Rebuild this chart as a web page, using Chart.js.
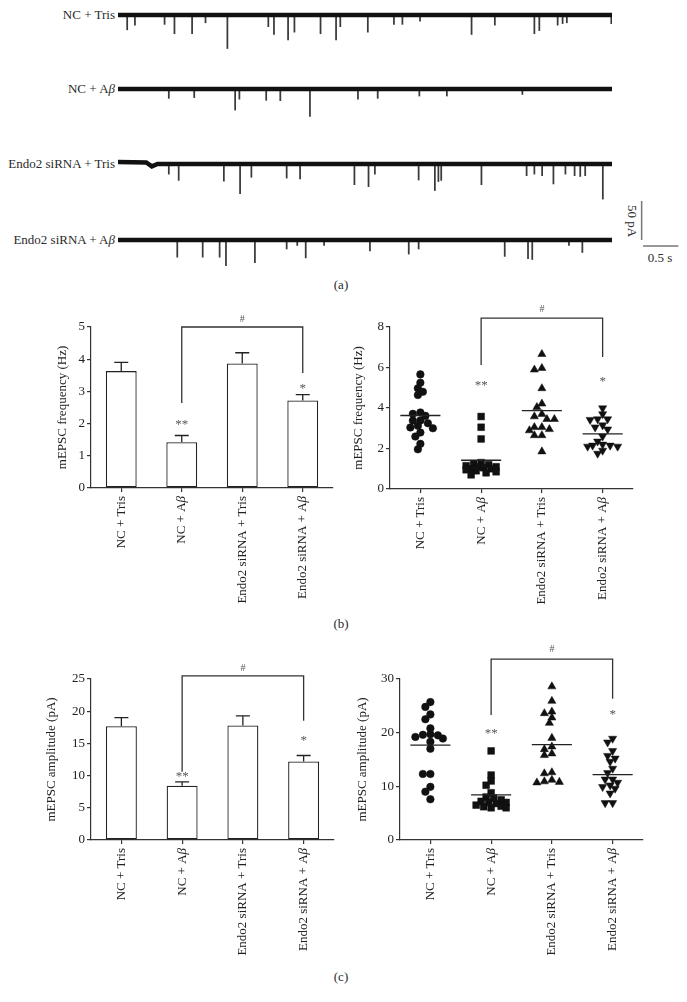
<!DOCTYPE html>
<html>
<head>
<meta charset="utf-8">
<script src="https://cdn.jsdelivr.net/npm/chart.js@4.4.1/dist/chart.umd.min.js"></script>
<style>
  body { margin: 0; background: #fff; }
  #page { position: relative; width: 687px; height: 1002px; overflow: hidden; background: #fff;
          font-family: "Liberation Serif", "DejaVu Serif", serif; color: #2a2a2a; }
  .lbl { position: absolute; font-size: 13px; line-height: 16px; white-space: nowrap; }
  .mid { transform: translate(-50%, -50%); }
</style>
</head>
<body>
<div id="page">
  <div class="lbl" style="right:572px;top:7px">NC + Tris</div>
  <div class="lbl" style="right:572px;top:81px">NC + A<i>β</i></div>
  <div class="lbl" style="right:572px;top:156px">Endo2 siRNA + Tris</div>
  <div class="lbl" style="right:572px;top:232px">Endo2 siRNA + A<i>β</i></div>
  <div class="lbl mid" style="left:632px;top:221px;transform:translate(-50%,-50%) rotate(90deg)">50 pA</div>
  <div class="lbl mid" style="left:660px;top:258px">0.5 s</div>
  <div class="lbl mid" style="left:341px;top:285px">(a)</div>
  <div class="lbl mid" style="left:341px;top:624px">(b)</div>
  <div class="lbl mid" style="left:341px;top:977px">(c)</div>
</div>
<script>
// groups
var categories = ['NC + Tris', 'NC + Aβ', 'Endo2 siRNA + Tris', 'Endo2 siRNA + Aβ'];

// mEPSC frequency (Hz): mean and SEM per group
var freqMean = [3.63, 1.42, 3.87, 2.72];
var freqSem = [0.27, 0.21, 0.33, 0.18];
// single cells
var freqNcTris = [5.66, 5.25, 4.97, 4.80, 4.64, 3.78, 3.71, 3.61, 3.38, 3.38, 3.25, 3.12, 3.04, 3.00, 2.79, 2.59, 2.23, 1.96];
var freqNcAb = [3.58, 3.05, 2.47, 1.30, 1.25, 1.20, 1.15, 1.10, 1.10, 1.05, 1.00, 1.00, 0.95, 0.90, 0.85, 0.80, 0.70];
var freqEndoTris = [6.66, 5.97, 5.89, 4.97, 4.21, 4.04, 3.70, 3.58, 3.45, 3.45, 3.05, 3.05, 2.95, 2.89, 2.65, 2.65, 1.85];
var freqEndoAb = [3.99, 3.70, 3.45, 3.45, 3.42, 3.15, 3.05, 2.95, 2.60, 2.35, 2.20, 2.15, 2.15, 2.10, 2.10, 1.90, 1.75];

// mEPSC amplitude (pA)
var ampMean = [17.67, 8.42, 17.77, 12.19];
var ampSem = [1.33, 0.62, 1.50, 0.93];
var ampNcTris = [25.7, 24.8, 23.4, 22.5, 20.8, 19.7, 19.6, 19.5, 19.2, 18.9, 18.3, 17.0, 12.3, 12.3, 9.9, 9.0, 7.6];
var ampNcAb = [16.6, 12.1, 11.0, 10.2, 8.8, 8.0, 7.8, 7.5, 7.2, 7.0, 7.0, 6.8, 6.5, 6.3, 6.2, 6.0, 6.0];
var ampEndoTris = [28.6, 25.9, 23.9, 23.6, 22.8, 21.8, 19.0, 17.4, 16.9, 16.1, 15.8, 12.6, 12.4, 11.2, 10.9, 10.8, 10.7];
var ampEndoAb = [18.9, 18.2, 16.6, 15.7, 15.2, 14.6, 13.3, 12.5, 11.3, 11.3, 10.7, 10.2, 9.9, 9.6, 8.7, 6.9, 6.9];

// y tick labels
var freqBarTicks = [0, 1, 2, 3, 4, 5];
var freqDotTicks = [0, 2, 4, 6, 8];
var ampBarTicks = [0, 5, 10, 15, 20, 25];
var ampDotTicks = [0, 10, 20, 30];

// recordings: length (s), baseline drift [t, pA], events [t (s), amplitude (pA)]
var traceLen = 7;
var baseNcTris = [[0, 0], [7, 0]];
var baseNcAb = [[0, 0], [7, 0]];
var baseEndoTris = [[0, 2.5], [0.40, 2], [0.48, -3], [0.56, 0], [7, 0]];
var baseEndoAb = [[0, 0], [7, 0]];
var spkNcTris = [[0.13, 19], [0.24, 13], [0.66, 12], [0.80, 24], [1.05, 24], [1.24, 10], [1.55, 43], [2.13, 15], [2.21, 25], [2.41, 32], [2.50, 22], [2.87, 24], [3.09, 32], [3.15, 15], [3.54, 22], [3.91, 12], [4.03, 12], [4.28, 8], [5.01, 25], [5.34, 13], [5.90, 24], [5.97, 20], [6.23, 13], [6.30, 11], [6.36, 10], [6.99, 11]];
var spkNcAb = [[0.72, 12], [1.08, 11], [1.66, 27], [1.72, 13], [2.10, 14.5], [2.30, 15], [2.72, 35], [3.40, 13], [3.68, 12], [4.27, 9], [4.66, 9], [5.73, 7]];
var spkEndoTris = [[0.72, 13], [0.86, 21], [1.50, 22], [1.73, 38], [1.89, 17], [2.39, 18], [2.58, 19], [3.35, 26.5], [3.55, 29], [3.64, 13], [4.26, 20.5], [4.49, 34], [4.54, 22.5], [4.58, 21], [5.15, 26.5], [5.79, 15], [5.90, 13], [6.01, 15], [6.17, 25.6], [6.34, 13], [6.47, 15], [6.55, 16], [6.62, 15], [6.87, 45]];
var spkEndoAb = [[0.84, 22], [1.20, 22], [1.44, 22], [1.53, 33], [1.94, 29], [2.39, 11.5], [2.54, 7], [2.66, 23], [2.92, 7], [3.57, 14], [4.12, 18], [4.26, 11.5], [5.48, 21], [5.81, 24], [5.87, 25], [6.39, 7], [6.58, 16]];

var SERIF = '"Liberation Serif", "DejaVu Serif", serif';
var INK = '#222';
var AXIS = '#333';
var page = document.getElementById('page');

function addCanvas(x, y, w, h) {
    var c = document.createElement('canvas');
    c.width = w; c.height = h;
    c.style.cssText = 'position:absolute;left:' + x + 'px;top:' + y + 'px;width:' + w + 'px;height:' + h + 'px';
    page.appendChild(c);
    return c;
}

// ---------- (a) traces ----------
var PX_PER_S = 494 / traceLen;
var PX_PER_PA = 0.78;

function addTrace(baseY, above, h, w, base, spikes, extra) {
    var c = addCanvas(118, baseY - above, w, h);
    var yMax = above / PX_PER_PA;
    new Chart(c, {
        type: 'bar',
        data: {
            datasets: [{
                type: 'line',
                data: base.map(function (p) { return { x: p[0], y: p[1] }; }),
                borderColor: '#111', borderWidth: 4.5, pointRadius: 0, tension: 0
            }, {
                type: 'bar',
                data: spikes.map(function (s) { return { x: s[0], y: [-1, -s[1]] }; }),
                backgroundColor: '#3a3a3a', barThickness: 1.1
            }]
        },
        options: {
            responsive: false, animation: false, devicePixelRatio: 1,
            layout: { padding: 0 },
            plugins: { legend: { display: false }, tooltip: { enabled: false } },
            scales: {
                x: { type: 'linear', offset: false, min: 0, max: w / PX_PER_S, display: false },
                y: { min: yMax - h / PX_PER_PA, max: yMax, display: false }
            }
        },
        plugins: extra ? [extra] : []
    });
}

// 50 pA / 0.5 s scale bar, placed in data units of the last trace
var scaleBar = {
    id: 'scaleBar',
    afterDraw: function (chart) {
        var xs = chart.scales.x, ys = chart.scales.y, ctx = chart.ctx;
        ctx.save();
        ctx.strokeStyle = '#777'; ctx.lineWidth = 1.5;
        ctx.beginPath();
        ctx.moveTo(xs.getPixelForValue(7.42), ys.getPixelForValue(50));
        ctx.lineTo(xs.getPixelForValue(7.42), ys.getPixelForValue(0));
        ctx.moveTo(xs.getPixelForValue(7.44), ys.getPixelForValue(-7.7));
        ctx.lineTo(xs.getPixelForValue(7.94), ys.getPixelForValue(-7.7));
        ctx.stroke();
        ctx.restore();
    }
};

addTrace(15, 8, 46, 494, baseNcTris, spkNcTris);
addTrace(89, 8, 46, 494, baseNcAb, spkNcAb);
addTrace(164, 8, 46, 494, baseEndoTris, spkEndoTris);
addTrace(240, 50, 85, 572, baseEndoAb, spkEndoAb, scaleBar);

// ---------- (b), (c) panels ----------
var catLabels = {
    id: 'catLabels',
    afterDraw: function (chart) {
        var xs = chart.scales.x, ctx = chart.ctx, y0 = chart.chartArea.bottom + 8;
        categories.forEach(function (lab, i) {
            var parts = lab.split(/(β)/).filter(Boolean);
            var fonts = parts.map(function (p) { return (p === 'β' ? 'italic ' : '') + '13px ' + SERIF; });
            ctx.save();
            ctx.translate(xs.getPixelForValue(i), y0);
            ctx.rotate(-Math.PI / 2);
            ctx.fillStyle = INK; ctx.textBaseline = 'middle'; ctx.textAlign = 'left';
            var widths = parts.map(function (p, k) { ctx.font = fonts[k]; return ctx.measureText(p).width; });
            var x = -widths.reduce(function (a, b) { return a + b; }, 0);
            parts.forEach(function (p, k) { ctx.font = fonts[k]; ctx.fillText(p, x, 0); x += widths[k]; });
            ctx.restore();
        });
    }
};

function decor(o) {
    return {
        id: 'decor',
        afterDatasetsDraw: function (chart) {
            var xs = chart.scales.x, ys = chart.scales.y, ctx = chart.ctx;
            ctx.save();
            ctx.strokeStyle = '#222'; ctx.lineWidth = 1.3;
            o.means.forEach(function (m, i) {
                var x = xs.getPixelForValue(i);
                ctx.beginPath();
                if (o.sems) {
                    var yt = ys.getPixelForValue(m), ye = ys.getPixelForValue(m + o.sems[i]);
                    ctx.moveTo(x, yt); ctx.lineTo(x, ye);
                    ctx.moveTo(x - 7, ye); ctx.lineTo(x + 7, ye);
                } else {
                    var y = ys.getPixelForValue(m);
                    ctx.moveTo(xs.getPixelForValue(i - 0.33), y);
                    ctx.lineTo(xs.getPixelForValue(i + 0.33), y);
                }
                ctx.stroke();
            });
            var b = o.bracket;
            var x1 = xs.getPixelForValue(b.from), x2 = xs.getPixelForValue(b.to), yt = ys.getPixelForValue(b.y);
            ctx.strokeStyle = '#333';
            ctx.beginPath();
            ctx.moveTo(x1, ys.getPixelForValue(b.left)); ctx.lineTo(x1, yt);
            ctx.lineTo(x2, yt); ctx.lineTo(x2, ys.getPixelForValue(b.right));
            ctx.stroke();
            ctx.fillStyle = '#555'; ctx.textAlign = 'center'; ctx.textBaseline = 'middle';
            ctx.font = '10px ' + SERIF;
            ctx.fillText('#', (x1 + x2) / 2, ys.getPixelForValue(b.label));
            ctx.font = '13px ' + SERIF;
            o.stars.forEach(function (s) {
                ctx.fillText(s[2], xs.getPixelForValue(s[0]), ys.getPixelForValue(s[1]));
            });
            ctx.restore();
        }
    };
}

function yAxis(min, max, ticks, title, w) {
    return {
        min: min, max: max,
        afterBuildTicks: function (s) { s.ticks = ticks.map(function (v) { return { value: v }; }); },
        afterFit: function (s) { s.width = w; },
        border: { display: true, color: AXIS, width: 1.2 },
        grid: { display: true, drawOnChartArea: false, drawTicks: true, tickLength: 4, color: AXIS, lineWidth: 1.2 },
        ticks: { color: INK, font: { family: SERIF, size: 13 }, padding: 2 },
        title: { display: true, text: title, color: INK, font: { family: SERIF, size: 13 }, padding: 0 }
    };
}

function xAxis(kind, h) {
    var ax = {
        type: kind,
        afterFit: function (s) { s.height = h; },
        border: { display: true, color: AXIS, width: 1.2 },
        grid: { display: true, drawOnChartArea: false, drawTicks: true, tickLength: 4, color: AXIS, lineWidth: 1.2, offset: false },
        ticks: { display: false }
    };
    if (kind === 'category') {
        ax.offset = true;
    } else {
        ax.min = -0.5; ax.max = 3.5;
        ax.afterBuildTicks = function (s) { s.ticks = categories.map(function (c, i) { return { value: i }; }); };
    }
    return ax;
}

// canvas box and wanted plot area, both in page pixels
function panelOptions(box, area, y, x) {
    return {
        responsive: false, animation: false, devicePixelRatio: 1,
        layout: { padding: { left: 0, top: area.t - box.y, right: box.x + box.w - area.r, bottom: 0 } },
        plugins: { legend: { display: false }, tooltip: { enabled: false } },
        scales: {
            x: xAxis(x, box.y + box.h - area.b),
            y: yAxis(y.min, y.max, y.ticks, y.title, area.l - box.x)
        }
    };
}

function barPanel(box, area, y, means, sems, marks) {
    var c = addCanvas(box.x, box.y, box.w, box.h);
    marks.means = means; marks.sems = sems;
    new Chart(c, {
        type: 'bar',
        data: {
            labels: categories,
            datasets: [{
                data: means, backgroundColor: '#fff', borderColor: '#222', borderWidth: 1.3,
                borderSkipped: false, barPercentage: 0.51, categoryPercentage: 1
            }]
        },
        options: panelOptions(box, area, y, 'category'),
        plugins: [catLabels, decor(marks)]
    });
}

var dotStyles = [
    { pointStyle: 'circle', radius: 3.8, rotation: 0 },
    { pointStyle: 'rect', radius: 4.8, rotation: 0 },
    { pointStyle: 'triangle', radius: 4.7, rotation: 0 },
    { pointStyle: 'triangle', radius: 4.7, rotation: 180 }
];

// spread equal-ish values sideways so markers do not sit on each other;
// keep every group inside about +/-17 px, letting crowded points overlap
function swarm(chart) {
    var xs = chart.scales.x, ys = chart.scales.y;
    var unit = xs.getPixelForValue(1) - xs.getPixelForValue(0);
    var gap = 5.8, step = 2.5, maxOff = 17;
    chart.data.datasets.forEach(function (ds, g) {
        var placed = [];
        var order = ds.data.map(function (p, k) { return k; })
            .sort(function (a, b) { return ds.data[b].y - ds.data[a].y; });
        order.forEach(function (k) {
            var py = ys.getPixelForValue(ds.data[k].y);
            var best = 0, bestD = -1;
            for (var j = 0; j < 60; j++) {
                var off = (j % 2 ? -1 : 1) * Math.ceil(j / 2) * step;
                if (Math.abs(off) > maxOff) break;
                var d = placed.reduce(function (m, q) {
                    return Math.min(m, Math.hypot(q[0] - off, q[1] - py));
                }, Infinity);
                if (d >= gap) { best = off; bestD = d; break; }
                if (d > bestD) { best = off; bestD = d; }
            }
            placed.push([best, py]);
            ds.data[k].x = g + best / unit;
        });
    });
    chart.update('none');
}

function dotPanel(box, area, y, groups, means, marks) {
    var c = addCanvas(box.x, box.y, box.w, box.h);
    marks.means = means;
    var chart = new Chart(c, {
        type: 'scatter',
        data: {
            datasets: groups.map(function (vals, g) {
                return {
                    data: vals.map(function (v) { return { x: g, y: v }; }),
                    pointStyle: dotStyles[g].pointStyle, pointRadius: dotStyles[g].radius,
                    rotation: dotStyles[g].rotation,
                    backgroundColor: '#111', borderColor: '#111', borderWidth: 0.5
                };
            })
        },
        options: panelOptions(box, area, y, 'linear'),
        plugins: [catLabels, decor(marks)]
    });
    swarm(chart);
}

barPanel({ x: 55, y: 300, w: 290, h: 315 }, { l: 91, t: 327, r: 333, b: 488 },
    { min: 0, max: 5, ticks: freqBarTicks, title: 'mEPSC frequency (Hz)' }, freqMean, freqSem,
    { bracket: { from: 1, to: 3, y: 5.0, left: 2.64, right: 3.57, label: 5.25 }, stars: [[1, 1.97, '**'], [3, 3.1, '*']] });

dotPanel({ x: 351, y: 300, w: 330, h: 315 }, { l: 390, t: 327, r: 633, b: 489 },
    { min: 0, max: 8, ticks: freqDotTicks, title: 'mEPSC frequency (Hz)' },
    [freqNcTris, freqNcAb, freqEndoTris, freqEndoAb], freqMean,
    { bracket: { from: 1, to: 3, y: 8.44, left: 6.12, right: 6.52, label: 8.89 }, stars: [[1, 5.12, '**'], [3, 5.3, '*']] });

barPanel({ x: 44, y: 645, w: 301, h: 320 }, { l: 91, t: 679, r: 334, b: 840 },
    { min: 0, max: 25, ticks: ampBarTicks, title: 'mEPSC amplitude (pA)' }, ampMean, ampSem,
    { bracket: { from: 1, to: 3, y: 25.5, left: 10.6, right: 18.5, label: 26.7 }, stars: [[1, 9.8, '**'], [3, 15.5, '*']] });

dotPanel({ x: 355, y: 640, w: 326, h: 325 }, { l: 400, t: 679, r: 643, b: 840 },
    { min: 0, max: 30, ticks: ampDotTicks, title: 'mEPSC amplitude (pA)' },
    [ampNcTris, ampNcAb, ampEndoTris, ampEndoAb], ampMean,
    { bracket: { from: 1, to: 3, y: 33.7, left: 23.3, right: 26.3, label: 35.6 }, stars: [[1, 19.9, '**'], [3, 23.3, '*']] });
</script>
</body>
</html>
